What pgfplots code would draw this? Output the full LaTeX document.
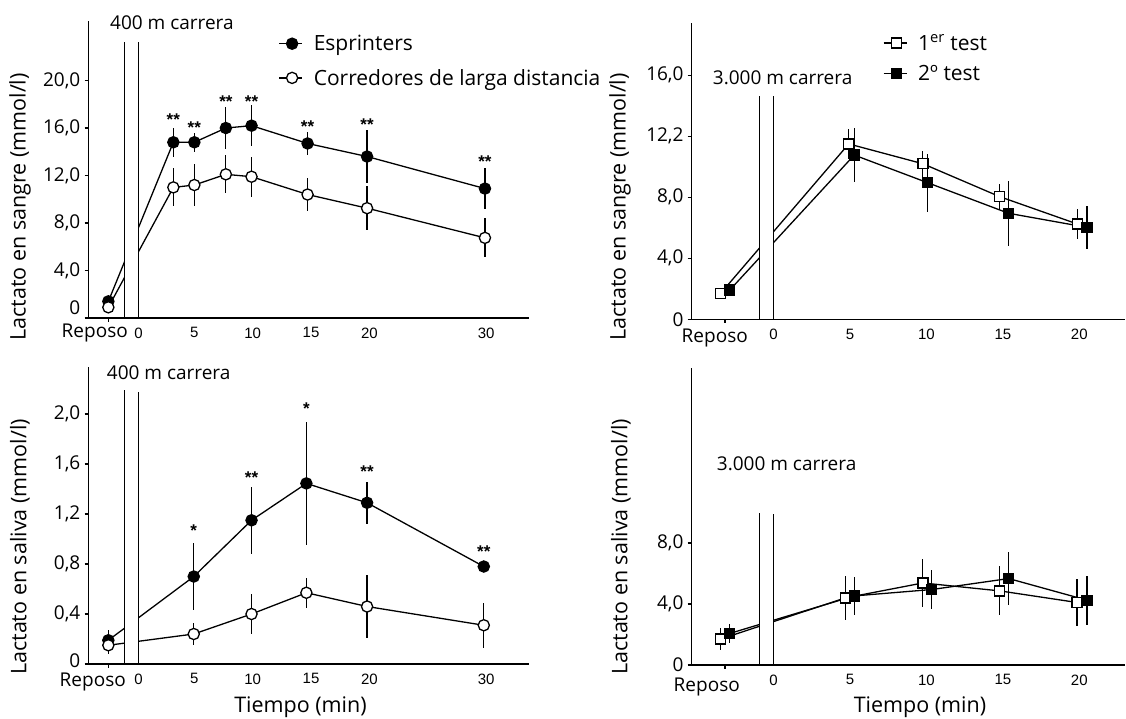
\documentclass[border=0pt]{standalone}
\usepackage{fontspec}
\setmainfont{Open Sans}
\newfontfamily\tickfont{Liberation Sans}
\usepackage{pgfplots}
\pgfplotsset{compat=1.18}

\newcommand\fs[1]{\fontsize{#1}{#1}\selectfont}

\tikzset{astk/.style={font=\tickfont\bfseries\fs{17}, inner sep=0pt}}

\pgfplotsset{
  panel/.style={
    scale only axis, anchor=south west, clip=false,
    axis lines=left, axis line style={-, line width=1.4pt},
    tick align=outside, major tick length=4pt,
    xtick style={draw=none}, ytick style={line width=1.1pt, black},
    yticklabel style={font=\fs{19}, inner sep=0pt, xshift=-4pt},
    xticklabel style={font=\tickfont\fs{15}, yshift=-2pt},
    error bars/y dir=both, error bars/y explicit,
    error bars/error mark=none,
    error bars/error bar style={line width=1.2pt},
    legend cell align=left,
    legend style={draw=none, fill=none, font=\fs{21}, inner sep=0pt},
    legend image code/.code={\draw[mark repeat=2, mark phase=2, ##1] plot coordinates {(0pt,0pt) (13pt,0pt) (23pt,0pt)}; \path (32pt,0pt);},
  },
  filledc/.style={black, line width=1.3pt, mark=*, mark size=5.6pt, mark options={fill=black, solid}},
  openc/.style={black, line width=1.3pt, mark=*, mark size=5.6pt, mark options={fill=white, solid}},
  opens/.style={black, line width=1.3pt, mark=square*, mark size=5pt, mark options={fill=white, solid}},
  fills/.style={black, line width=1.3pt, mark=square*, mark size=5pt, mark options={fill=black, solid}},
}

\begin{document}
\begin{tikzpicture}
\path[use as bounding box] (0,0) rectangle (1126pt,-719pt);

% ---- blood lactate, 400 m ----
\begin{axis}[panel, at={(88.5pt,-318pt)}, width=440.1pt, height=297.3pt,
  xmin=-4.07, xmax=33.64, ymin=0, ymax=25.04,
  xtick={0.21,5,10,15,20,30}, xticklabels={0,5,10,15,20,30},
  ytick={0,4,8,12,16,20}, yticklabels={,{4,0},{8,0},{12,0},{16,0},{20,0}},
  legend style={at={(axis cs:12.19,24.0)}, anchor=north west, row sep=13pt}]
\addplot[filledc] coordinates {
  (-2.37,1.4) +- (0,0) (3.2,14.8) +- (0,1.2) (5,14.8) +- (0,0.8) (7.7,16.0) +- (0,1.8)
  (9.9,16.2) +- (0,1.7) (14.7,14.7) +- (0,1.0) (19.8,13.6) +- (0,2.2) (29.9,10.9) +- (0,1.7)};
\addlegendentry{Esprinters}
\addplot[openc] coordinates {
  (-2.37,0.9) +- (0,0) (3.2,11.0) +- (0,1.6) (5,11.2) +- (0,1.8) (7.7,12.1) +- (0,1.6)
  (9.9,11.9) +- (0,1.7) (14.7,10.4) +- (0,1.4) (19.8,9.25) +- (0,1.85) (29.9,6.75) +- (0,1.65)};
\addlegendentry{Corredores de larga distancia}
\fill[white] ([yshift=1pt]axis cs:-0.99,0) rectangle (axis cs:0.21,23.27);
\draw[line width=1.3pt] (axis cs:-0.99,0) -- (axis cs:-0.99,23.27);
\draw[line width=1.3pt] (axis cs:0.21,0) -- (axis cs:0.21,23.27);
\draw[line width=1.1pt] (axis cs:-2.37,0) -- ([yshift=-4pt]axis cs:-2.37,0);
\node[anchor=east, font=\fs{19}, inner sep=0pt] at ([xshift=-8pt, yshift=10pt]axis cs:-4.07,0) {0};
\node[astk] at (axis cs:3.2,16.7) {**};
\node[astk] at (axis cs:5,16.0) {**};
\node[astk] at (axis cs:7.7,18.25) {**};
\node[astk] at (axis cs:9.9,18.25) {**};
\node[astk] at (axis cs:14.7,16.1) {**};
\node[astk] at (axis cs:19.8,16.3) {**};
\node[astk] at (axis cs:29.9,13.2) {**};
\end{axis}

% ---- saliva lactate, 400 m ----
\begin{axis}[panel, at={(88.5pt,-664pt)}, width=440.1pt, height=296.7pt,
  xmin=-4.07, xmax=33.64, ymin=0, ymax=2.374,
  xtick={0.21,5,10,15,20,30}, xticklabels={0,5,10,15,20,30},
  ytick={0,0.4,0.8,1.2,1.6,2.0}, yticklabels={,{0,4},{0,8},{1,2},{1,6},{2,0}}]
\addplot[filledc] coordinates {
  (-2.37,0.19) +- (0,0.08) (4.95,0.70) +- (0,0.27) (9.9,1.15) +- (0,0.27)
  (14.6,1.445) +- (0,0.49) (19.8,1.29) +- (0,0.17) (29.8,0.78) +- (0,0.04)};
\addplot[openc] coordinates {
  (-2.37,0.15) +- (0,0.07) (4.95,0.24) +- (0,0.09) (9.9,0.40) +- (0,0.16)
  (14.6,0.57) +- (0,0.12) (19.8,0.46) +- (0,0.25) (29.8,0.31) +- (0,0.18)};
\fill[white] ([yshift=1pt]axis cs:-0.99,0) rectangle (axis cs:0.21,2.19);
\draw[line width=1.3pt] (axis cs:-0.99,0) -- (axis cs:-0.99,2.19);
\draw[line width=1.3pt] (axis cs:0.21,0) -- (axis cs:0.21,2.18);
\draw[line width=1.1pt] (axis cs:-2.37,0) -- ([yshift=-4pt]axis cs:-2.37,0);
\node[anchor=east, font=\fs{19}, inner sep=0pt] at ([xshift=-8pt, yshift=3pt]axis cs:-4.07,0) {0};
\node[astk] at (axis cs:4.95,1.07) {*};
\node[astk] at (axis cs:9.9,1.49) {**};
\node[astk] at (axis cs:14.6,2.04) {*};
\node[astk] at (axis cs:19.8,1.54) {**};
\node[astk] at (axis cs:29.8,0.90) {**};
\end{axis}

% ---- blood lactate, 3000 m ----
\begin{axis}[panel, at={(691.7pt,-319.3pt)}, width=433.3pt, height=296.6pt,
  xmin=-5.35, xmax=22.99, ymin=0, ymax=19.45,
  xtick={0,5,10,15,20}, xticklabels={0,5,10,15,20},
  ytick={0,4,8,12,16}, yticklabels={0,{4,0},{8,0},{12,2},{16,0}},
  legend style={at={(axis cs:7.14,18.82)}, anchor=north west, row sep=9.5pt}]
\addplot[opens] coordinates {
  (-3.46,1.7) +- (0,0.25) (4.92,11.5) +- (0,1.0) (9.77,10.2) +- (0,0.85)
  (14.8,8.04) +- (0,0.85) (19.87,6.25) +- (0,1.0)};
\addlegendentry{1\textsuperscript{er} test}
\addplot[fills] coordinates {
  (-2.86,1.92) +- (0,0.2) (5.28,10.77) +- (0,1.75) (10.07,8.96) +- (0,1.9)
  (15.38,6.95) +- (0,2.15) (20.5,6.03) +- (0,1.4)};
\addlegendentry{2º test}
\fill[white] ([yshift=1pt]axis cs:-0.93,0) rectangle (axis cs:0,14.64);
\draw[line width=1.3pt] (axis cs:-0.93,0) -- (axis cs:-0.93,14.64);
\draw[line width=1.3pt] (axis cs:0,0) -- (axis cs:0,14.64);
\draw[line width=1.1pt] (axis cs:-3.17,0) -- ([yshift=-4pt]axis cs:-3.17,0);
\end{axis}

% ---- saliva lactate, 3000 m ----
\begin{axis}[panel, at={(691.7pt,-665pt)}, width=433.3pt, height=296.6pt,
  xmin=-5.35, xmax=22.99, ymin=0, ymax=19.45,
  xtick={0,5,10,15,20}, xticklabels={0,5,10,15,20},
  ytick={0,4,8}, yticklabels={0,{4,0},{8,0}}]
\addplot[opens] coordinates {
  (-3.46,1.7) +- (0,0.7) (4.7,4.4) +- (0,1.45) (9.77,5.38) +- (0,1.6)
  (14.8,4.86) +- (0,1.6) (19.85,4.1) +- (0,1.55)};
\addplot[fills] coordinates {
  (-2.86,2.07) +- (0,0.6) (5.28,4.53) +- (0,1.25) (10.35,4.95) +- (0,1.3)
  (15.38,5.67) +- (0,1.75) (20.5,4.25) +- (0,1.6)};
\fill[white] ([yshift=1pt]axis cs:-0.93,0) rectangle (axis cs:0,10.0);
\draw[line width=1.3pt] (axis cs:-0.93,0) -- (axis cs:-0.93,10.0);
\draw[line width=1.3pt] (axis cs:0,0) -- (axis cs:0,9.9);
\draw[line width=1.1pt] (axis cs:-3.17,0) -- ([yshift=-4pt]axis cs:-3.17,0);
\end{axis}

% ---- texts ----
\begin{scope}[every node/.style={inner sep=0pt}]
\node[anchor=west, font=\fs{19}] at (110pt,-22.7pt) {400 m carrera};
\node[anchor=west, font=\fs{19}] at (106.7pt,-372.7pt) {400 m carrera};
\node[anchor=west, font=\fs{19}] at (712.7pt,-77.3pt) {3.000 m carrera};
\node[anchor=west, font=\fs{19}] at (716.7pt,-464pt) {3.000 m carrera};
\node[anchor=east, font=\fs{19}] at (128pt,-333pt) {Reposo};
\node[anchor=east, font=\fs{19}] at (748pt,-338.3pt) {Reposo};
\node[anchor=east, font=\fs{19}] at (126pt,-682pt) {Reposo};
\node[anchor=east, font=\fs{19}] at (740pt,-686.7pt) {Reposo};
\node[font=\fs{21.5}] at (300.5pt,-707.3pt) {Tiempo (min)};
\node[font=\fs{21.5}] at (920pt,-707.3pt) {Tiempo (min)};
\node[rotate=90, font=\fs{21.5}] at (20pt,-207pt) {Lactato en sangre (mmol/l)};
\node[rotate=90, font=\fs{21.5}] at (620pt,-207pt) {Lactato en sangre (mmol/l)};
\node[rotate=90, font=\fs{21.5}] at (20pt,-547pt) {Lactato en saliva (mmol/l)};
\node[rotate=90, font=\fs{21.5}] at (621pt,-547pt) {Lactato en saliva (mmol/l)};
\end{scope}
\end{tikzpicture}
\end{document}
